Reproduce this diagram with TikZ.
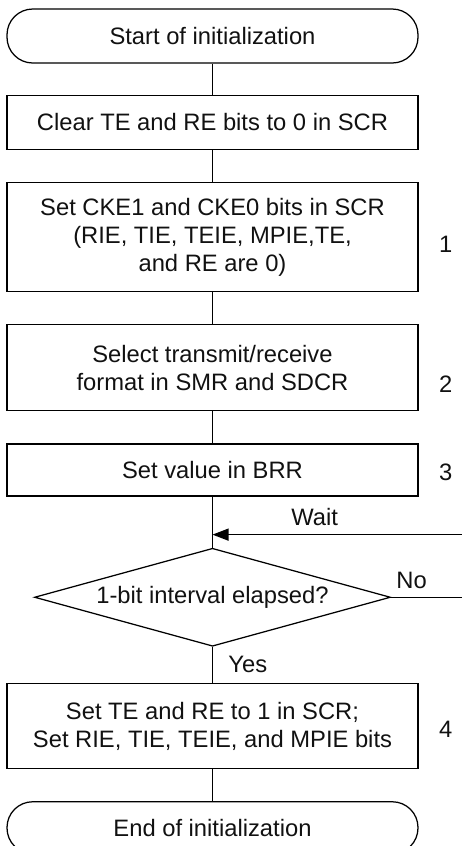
\documentclass[tikz,border=0pt]{standalone}
\usepackage{fontspec}
\setmainfont{Liberation Sans}
\usetikzlibrary{positioning, arrows.meta, shapes.geometric}
\definecolor{clrborder}{HTML}{000000}
\definecolor{clrtext}{HTML}{111111}

\begin{document}
\begin{tikzpicture}[
    >={Triangle[length=6.4pt, width=4.8pt]},
    every node/.style={font=\fontsize{9.5}{11.2}\selectfont, text=clrtext},
    process/.style={draw=clrborder, line width=0.5pt, minimum width=164.4pt,
                    align=center, inner sep=2pt},
    terminal/.style={process, rounded corners=10.3pt},
    decision/.style={draw=clrborder, line width=0.5pt, diamond, aspect=3.6,
                     inner sep=0pt, minimum width=142.4pt, minimum height=39.2pt},
    flowline/.style={draw=clrborder, line width=0.5pt},
    steplabel/.style={inner sep=0pt},
]
\useasboundingbox (0,0) rectangle (184.8pt,-338.4pt);
\node[terminal, minimum height=21.6pt] (start) at (85pt,-14.4pt) {Start of initialization};
\node[process, minimum height=21.6pt, below=12.4pt of start] (clear) {Clear TE and RE bits to 0 in SCR};
\node[process, minimum height=43.6pt, below=12.8pt of clear] (cke) {Set CKE1 and CKE0 bits in SCR\\(RIE, TIE, TEIE, MPIE,TE,\\and RE are 0)};
\node[process, minimum height=34.4pt, below=12.8pt of cke] (fmt) {Select transmit/receive\\format in SMR and SDCR};
\node[process, minimum height=20.8pt, below=12.8pt of fmt] (brr) {Set value in BRR};
\node[decision, below=20.4pt of brr] (elapsed) {1-bit interval elapsed?};
\node[process, minimum height=34pt, below=14.4pt of elapsed] (enable) {Set TE and RE to 1 in SCR;\\Set RIE, TIE, TEIE, and MPIE bits};
\node[terminal, minimum height=20.8pt, below=12.8pt of enable] (finish) {End of initialization};
% step numbers
\node[steplabel] (num_1) at ([xshift=10.8pt, yshift=-3pt]cke.east) {1};
\node[steplabel] (num_2) at ([xshift=10.8pt, yshift=-6.4pt]fmt.east) {2};
\node[steplabel] (num_3) at ([xshift=10.8pt, yshift=-0.8pt]brr.east) {3};
\node[steplabel] (num_4) at ([xshift=10.8pt, yshift=-1.4pt]enable.east) {4};
% connectors
\coordinate (rightedge) at (184.6pt,0);
\coordinate (waitjoin) at ([yshift=-15.2pt]brr.south);
\coordinate (waitin) at (waitjoin -| rightedge);
\coordinate (noout) at (elapsed.east -| rightedge);
\draw[flowline] (start.south) -- (clear.north);
\draw[flowline] (clear.south) -- (cke.north);
\draw[flowline] (cke.south) -- (fmt.north);
\draw[flowline] (fmt.south) -- (brr.north);
\draw[flowline] (brr.south) -- (elapsed.north);
\draw[flowline] (elapsed.south) -- node[right, xshift=2.8pt] {Yes} (enable.north);
\draw[flowline] (enable.south) -- (finish.north);
\draw[flowline, ->] (waitin) -- node[pos=0.59, above] {Wait} (waitjoin);
\draw[flowline] (elapsed.east) -- node[pos=0.29, above] {No} (noout);
\end{tikzpicture}
\end{document}
